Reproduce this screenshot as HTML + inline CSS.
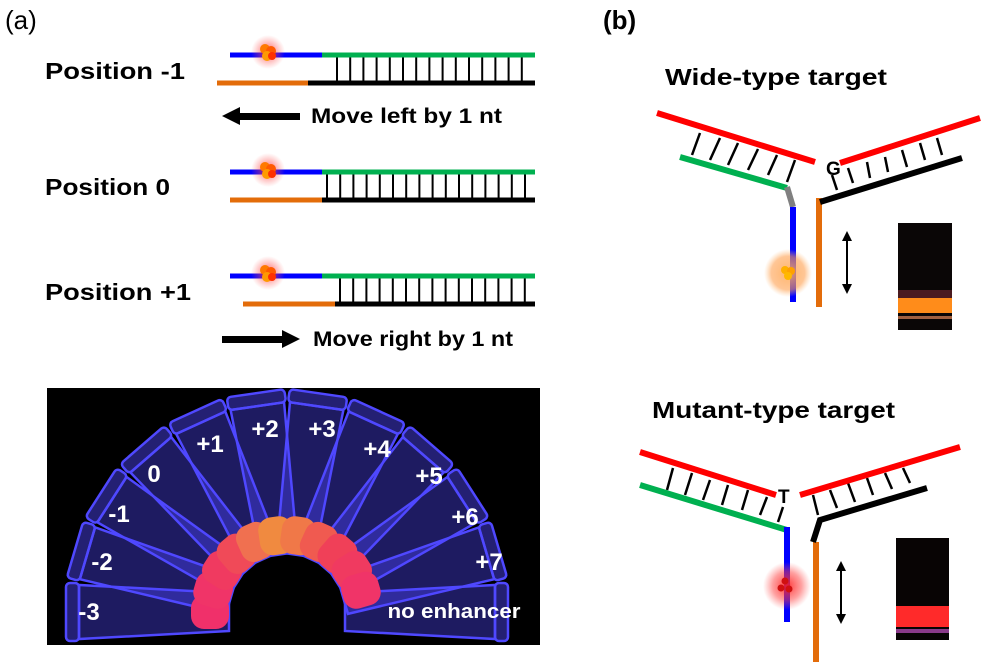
<!DOCTYPE html>
<html><head><meta charset="utf-8"><style>
html,body{margin:0;padding:0;background:#fff;overflow:hidden;width:1000px;height:662px}
svg{display:block}
text{font-family:"Liberation Sans",sans-serif;font-weight:bold}
</style></head><body>
<svg width="1000" height="662" viewBox="0 0 1000 662" xmlns="http://www.w3.org/2000/svg">
<defs>
<radialGradient id="rglow"><stop offset="0" stop-color="#ff2020" stop-opacity="0.9"/><stop offset="0.6" stop-color="#ff4040" stop-opacity="0.5"/><stop offset="1" stop-color="#ff6060" stop-opacity="0"/></radialGradient>
<radialGradient id="oglow"><stop offset="0" stop-color="#ffb060" stop-opacity="0.9"/><stop offset="0.7" stop-color="#ffa050" stop-opacity="0.6"/><stop offset="1" stop-color="#ffc080" stop-opacity="0"/></radialGradient>
<radialGradient id="fglow"><stop offset="0" stop-color="#ff3030" stop-opacity="0.8"/><stop offset="1" stop-color="#ff6060" stop-opacity="0"/></radialGradient>
<clipPath id="photo"><rect x="47" y="388" width="493" height="257"/></clipPath>
<g id="tube"><polygon points="58,-19 208,-27 208,27 58,19" fill="rgba(80,70,255,0.38)" stroke="#4f48ff" stroke-width="2.5"/><rect x="208" y="-29" width="13" height="58" rx="4" fill="rgba(80,70,255,0.45)" stroke="#4f48ff" stroke-width="2.5"/></g>
<g id="fluor"><circle r="17" fill="url(#fglow)"/><circle cx="-3" cy="-3" r="5" fill="#ff7a00"/><circle cx="3" cy="-1" r="5" fill="#ff5a00"/><circle cx="-1" cy="4" r="5" fill="#ff9a00"/><circle cx="4" cy="4" r="4" fill="#ff3000"/></g>
</defs>

<text x="5" y="29" font-size="26" style="font-weight:normal">(a)</text>
<text x="603" y="29" font-size="26">(b)</text>

<text x="45" y="79" font-size="23" textLength="140" lengthAdjust="spacingAndGlyphs">Position  -1</text>
<line x1="230" y1="55" x2="322" y2="55" stroke="#0000ff" stroke-width="5"/>
<line x1="322" y1="55" x2="535" y2="55" stroke="#00b050" stroke-width="5"/>
<line x1="217" y1="83" x2="308" y2="83" stroke="#e36c0a" stroke-width="5"/>
<line x1="308" y1="83" x2="535" y2="83" stroke="#000" stroke-width="5"/>
<line x1="336" y1="69.5" x2="530" y2="69.5" stroke="#000" stroke-width="24" stroke-dasharray="2 11.2"/>
<use href="#fluor" x="268" y="52"/>
<polygon points="222,116 240,107 240,113 300,113 300,120 240,120 240,125" fill="#000"/>
<text x="311" y="123" font-size="21" textLength="191" lengthAdjust="spacingAndGlyphs">Move left by 1 nt</text>

<text x="45" y="195" font-size="23" textLength="125" lengthAdjust="spacingAndGlyphs">Position 0</text>
<line x1="230" y1="172" x2="322" y2="172" stroke="#0000ff" stroke-width="5"/>
<line x1="322" y1="172" x2="535" y2="172" stroke="#00b050" stroke-width="5"/>
<line x1="230" y1="200" x2="322" y2="200" stroke="#e36c0a" stroke-width="5"/>
<line x1="322" y1="200" x2="535" y2="200" stroke="#000" stroke-width="5"/>
<line x1="326" y1="186.5" x2="530" y2="186.5" stroke="#000" stroke-width="24" stroke-dasharray="2 11.2"/>
<use href="#fluor" x="268" y="170"/>

<text x="45" y="300" font-size="23" textLength="146" lengthAdjust="spacingAndGlyphs">Position  +1</text>
<line x1="230" y1="276" x2="322" y2="276" stroke="#0000ff" stroke-width="5"/>
<line x1="322" y1="276" x2="535" y2="276" stroke="#00b050" stroke-width="5"/>
<line x1="243" y1="304" x2="335" y2="304" stroke="#e36c0a" stroke-width="5"/>
<line x1="335" y1="304" x2="535" y2="304" stroke="#000" stroke-width="5"/>
<line x1="339" y1="290.5" x2="530" y2="290.5" stroke="#000" stroke-width="24" stroke-dasharray="2 11.2"/>
<use href="#fluor" x="268" y="273"/>
<polygon points="300,339 282,330 282,336 222,336 222,343 282,343 282,348" fill="#000"/>
<text x="313" y="346" font-size="21" textLength="200" lengthAdjust="spacingAndGlyphs">Move right by 1 nt</text>

<rect x="47" y="388" width="493" height="257" fill="#000"/>
<g clip-path="url(#photo)">
<g transform="translate(287,612)">
<use href="#tube" transform="rotate(-180)"/>
<use href="#tube" transform="rotate(-163.6)"/>
<use href="#tube" transform="rotate(-147.3)"/>
<use href="#tube" transform="rotate(-130.9)"/>
<use href="#tube" transform="rotate(-114.5)"/>
<use href="#tube" transform="rotate(-98.2)"/>
<use href="#tube" transform="rotate(-81.8)"/>
<use href="#tube" transform="rotate(-65.5)"/>
<use href="#tube" transform="rotate(-49.1)"/>
<use href="#tube" transform="rotate(-32.7)"/>
<use href="#tube" transform="rotate(-16.4)"/>
<use href="#tube" transform="rotate(0)"/>
<g stroke="none">
<rect x="58" y="-17" width="38" height="34" rx="13" fill="#f0306a" transform="rotate(-180)"/>
<rect x="58" y="-17" width="38" height="34" rx="13" fill="#f03468" transform="rotate(-163.6)"/>
<rect x="58" y="-17" width="38" height="34" rx="13" fill="#f03a60" transform="rotate(-147.3)"/>
<rect x="58" y="-17" width="38" height="34" rx="13" fill="#f04a58" transform="rotate(-130.9)"/>
<rect x="58" y="-17" width="38" height="34" rx="13" fill="#f07050" transform="rotate(-114.5)"/>
<rect x="58" y="-17" width="38" height="34" rx="13" fill="#f08a40" transform="rotate(-98.2)"/>
<rect x="58" y="-17" width="38" height="34" rx="13" fill="#f07848" transform="rotate(-81.8)"/>
<rect x="58" y="-17" width="38" height="34" rx="13" fill="#f05a50" transform="rotate(-65.5)"/>
<rect x="58" y="-17" width="38" height="34" rx="13" fill="#f04058" transform="rotate(-49.1)"/>
<rect x="58" y="-17" width="38" height="34" rx="13" fill="#f03a60" transform="rotate(-32.7)"/>
<rect x="58" y="-17" width="38" height="34" rx="13" fill="#f03468" transform="rotate(-16.4)"/>
</g>
</g>
</g>
<g fill="#fff" font-size="24" text-anchor="middle">
<text x="89" y="620">-3</text>
<text x="102" y="570">-2</text>
<text x="119" y="522">-1</text>
<text x="154" y="482">0</text>
<text x="210" y="452">+1</text>
<text x="265" y="437">+2</text>
<text x="322" y="437">+3</text>
<text x="377" y="457">+4</text>
<text x="429" y="484">+5</text>
<text x="465" y="525">+6</text>
<text x="489" y="570">+7</text>
<text x="454" y="618" font-size="20" textLength="133" lengthAdjust="spacingAndGlyphs">no enhancer</text>
</g>

<text x="665" y="85" font-size="23" textLength="222" lengthAdjust="spacingAndGlyphs">Wide-type target</text>
<g stroke="#000" stroke-width="2.5">
<line x1="692" y1="155" x2="700" y2="133"/><line x1="710" y1="160" x2="720" y2="138"/><line x1="728" y1="165" x2="738" y2="143"/><line x1="748" y1="170" x2="758" y2="149"/><line x1="768" y1="175" x2="777" y2="155"/><line x1="787" y1="182" x2="795" y2="160"/>
<line x1="837" y1="190" x2="832" y2="175"/><line x1="853" y1="183" x2="848" y2="168"/><line x1="870" y1="178" x2="867" y2="162"/><line x1="888" y1="172" x2="885" y2="157"/><line x1="907" y1="167" x2="902" y2="150"/><line x1="925" y1="160" x2="920" y2="143"/><line x1="942" y1="155" x2="937" y2="138"/>
</g>
<line x1="657" y1="113" x2="815" y2="162" stroke="#ff0000" stroke-width="6"/>
<line x1="840" y1="163" x2="980" y2="118" stroke="#ff0000" stroke-width="6"/>
<line x1="680" y1="157" x2="787" y2="188" stroke="#00b050" stroke-width="6"/>
<polyline points="787,187 793,207" stroke="#808080" stroke-width="6" fill="none"/>
<line x1="793" y1="207" x2="793" y2="302" stroke="#0000ff" stroke-width="6"/>
<line x1="819" y1="198" x2="819" y2="307" stroke="#e36c0a" stroke-width="6"/>
<line x1="820" y1="202" x2="962" y2="158" stroke="#000" stroke-width="6"/>
<text x="826" y="175" font-size="19">G</text>
<circle cx="788" cy="273" r="24" fill="url(#oglow)"/>
<circle cx="785" cy="270" r="4" fill="#ffb000"/><circle cx="791" cy="271" r="4" fill="#ffa000"/><circle cx="788" cy="276" r="4" fill="#ffb800"/>
<line x1="847" y1="238" x2="847" y2="287" stroke="#000" stroke-width="2"/>
<polygon points="847,231 842,241 852,241" fill="#000"/><polygon points="847,294 842,284 852,284" fill="#000"/>
<rect x="898" y="223" width="54" height="107" fill="#0a0606"/>
<rect x="898" y="290" width="54" height="8" fill="#4a1a20"/>
<rect x="898" y="298" width="54" height="15" fill="#ff8c1a"/>
<rect x="898" y="316" width="54" height="3" fill="#a06040"/>

<text x="652" y="418" font-size="23" textLength="243" lengthAdjust="spacingAndGlyphs">Mutant-type target</text>
<g stroke="#000" stroke-width="2.5">
<line x1="667" y1="490" x2="673" y2="468"/><line x1="685" y1="495" x2="692" y2="473"/><line x1="703" y1="500" x2="710" y2="480"/><line x1="722" y1="505" x2="728" y2="485"/><line x1="742" y1="510" x2="748" y2="490"/><line x1="760" y1="515" x2="767" y2="497"/><line x1="778" y1="522" x2="783" y2="507"/>
<line x1="818" y1="515" x2="813" y2="495"/><line x1="837" y1="508" x2="830" y2="490"/><line x1="855" y1="502" x2="848" y2="483"/><line x1="873" y1="495" x2="867" y2="478"/><line x1="892" y1="489" x2="885" y2="473"/><line x1="910" y1="483" x2="903" y2="468"/>
</g>
<line x1="640" y1="452" x2="776" y2="495" stroke="#ff0000" stroke-width="6"/>
<line x1="800" y1="495" x2="960" y2="447" stroke="#ff0000" stroke-width="6"/>
<line x1="640" y1="485" x2="787" y2="530" stroke="#00b050" stroke-width="6"/>
<line x1="787" y1="527" x2="787" y2="622" stroke="#0000ff" stroke-width="6"/>
<line x1="816" y1="542" x2="816" y2="662" stroke="#e36c0a" stroke-width="6"/>
<polyline points="813,542 820,520 927,488" stroke="#000" stroke-width="6" fill="none"/>
<text x="778" y="503" font-size="19">T</text>
<circle cx="787" cy="586" r="24" fill="url(#rglow)"/>
<circle cx="785" cy="581" r="3.5" fill="#d01010"/><circle cx="781" cy="588" r="3.5" fill="#d01010"/><circle cx="789" cy="589" r="3.5" fill="#d01010"/>
<line x1="841" y1="568" x2="841" y2="617" stroke="#000" stroke-width="2"/>
<polygon points="841,561 836,571 846,571" fill="#000"/><polygon points="841,624 836,614 846,614" fill="#000"/>
<rect x="896" y="538" width="53" height="102" fill="#080404"/>
<rect x="896" y="606" width="53" height="21" fill="#ff2a2a"/>
<rect x="896" y="629" width="53" height="4" fill="#8a3a8a"/>
</svg>
</body></html>
